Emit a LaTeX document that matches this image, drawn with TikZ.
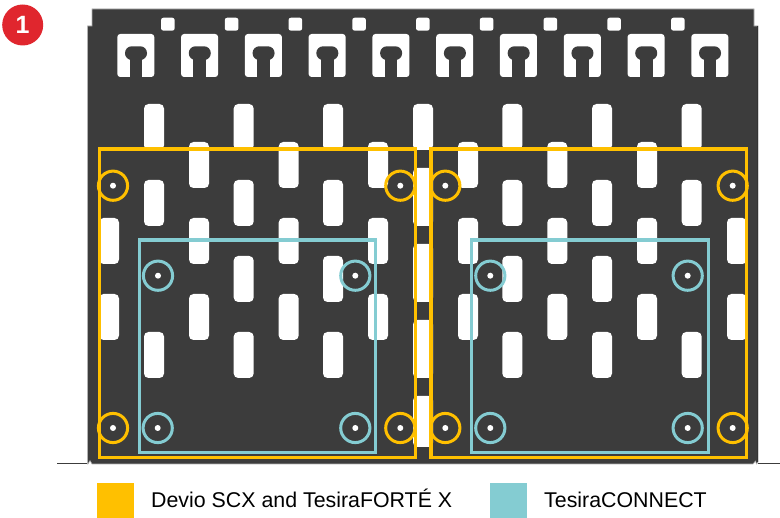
\documentclass[tikz,border=0pt]{standalone}
\usepackage{fontspec}
\setmainfont{Liberation Sans}
\definecolor{plate}{HTML}{3C3C3C}
\definecolor{amber}{HTML}{FFC000}
\definecolor{teal}{HTML}{84CCD2}
\definecolor{badge}{HTML}{E0262E}
\tikzset{
  slot/.style={fill=white,rounded corners=4.5pt},
  frameY/.style={draw=amber,line width=3.1pt},
  frameC/.style={draw=teal,line width=3.1pt},
  ringY/.style={draw=amber,line width=3pt},
  ringC/.style={draw=teal,line width=3pt},
  legendtext/.style={anchor=base west,inner sep=0pt,font=\fontsize{21.35}{24}\selectfont,text=black}
}
\begin{document}
\begin{tikzpicture}[x=1pt,y=-1pt]
\useasboundingbox (0,0) rectangle (780,518);
\fill[white] (0,0) rectangle (780,518);
% base flanges
\draw[plate,line width=1.8pt] (57,463.6) -- (88,463.6);
\draw[plate,line width=1.8pt] (758,463.6) -- (780,463.6);
% plate
\path[fill=plate,draw=black!30,line width=0.6pt] (92,9) -- (754,9) -- (754,26) -- (758,26) -- (758,462) -- (756.5,464) -- (755.5,461) -- (753,464) -- (92,464) -- (90,460.5) -- (88,464) -- (87.5,464) -- (87.5,26) -- (92,26) -- cycle;
\draw[black!80,line width=1pt] (757.6,26) -- (757.6,462);
% small squares
\foreach \i in {0,...,8}{
  \pgfmathsetmacro{\X}{161+63.75*\i}
  \fill[white,rounded corners=2.5pt] (\X,17.7) rectangle ++(13.7,13);
}
% keyholes
\foreach \i in {0,...,9}{
  \pgfmathsetmacro{\X}{117.3+63.78*\i}
  \fill[white,rounded corners=3pt] (\X,34) rectangle ++(37,43);
  \fill[plate,rounded corners=6.7pt] (\X+7.7,46.3) rectangle (\X+29.7,60);
  \fill[plate] (\X+12.4,54) rectangle (\X+25,77.5);
}
% slots: columns on the main grid
\foreach \y in {104,180,332}{
  \foreach \x in {144,233.7,323,502.3,592,681.7}{
    \fill[slot] (\x,\y) rectangle ++(20,46);
  }
}
\foreach \x in {233.7,323,502.3,592}{
  \fill[slot] (\x,256) rectangle ++(20,46);
}
% offset columns
\foreach \y in {142,218,294}{
  \foreach \x in {189,278.7,368,458,547.3,637}{
    \fill[slot] (\x,\y) rectangle ++(20,46);
  }
}
% edge slots
\foreach \y in {218,294}{
  \fill[slot] (99,\y) rectangle ++(20,46);
  \fill[slot] (727,\y) rectangle ++(20,46);
}
% centre column
\fill[slot] (413,104) rectangle (433,150);
\fill[slot] (413,168) rectangle (433,226);
\fill[slot] (413,244) rectangle (433,302);
\fill[slot] (413,320) rectangle (433,378);
\fill[slot] (413,396) rectangle (433,447);
% mounting frames
\draw[frameY] (99.3,149) rectangle (415.3,457.7);
\draw[frameY] (431,149) rectangle (746.7,457.7);
\draw[frameC] (139.3,240) rectangle (375.7,452.3);
\draw[frameC] (471.7,240) rectangle (708.3,452.3);
% rings and holes
\foreach \x/\y in {113/185.7,400.3/185.7,445.3/185.7,732.7/185.7,113/428,400.3/428,445.3/428,732.7/428}{
  \draw[ringY] (\x,\y) circle[radius=14.6];
  \fill[white] (\x,\y) circle[radius=3];
}
\foreach \x/\y in {158/275.7,355.3/275.7,490.3/275.7,687.7/275.7,157.7/428,355.3/428,490.3/428,687.7/428}{
  \draw[ringC] (\x,\y) circle[radius=14.6];
  \fill[white] (\x,\y) circle[radius=3];
}
% badge
\node[circle,fill=badge,minimum size=41pt,inner sep=0pt,text=white,font=\bfseries\fontsize{25}{25}\selectfont] (badge) at (22.7,25) {1};
% legend
\fill[amber] (97,483) rectangle (134,518);
\fill[teal] (490,483) rectangle (527,518);
\node[legendtext] (legA) at (151,507.7) {Devio SCX and TesiraFORTÉ X};
\node[legendtext] (legB) at (544,507.7) {TesiraCONNECT};
\end{tikzpicture}
\end{document}
